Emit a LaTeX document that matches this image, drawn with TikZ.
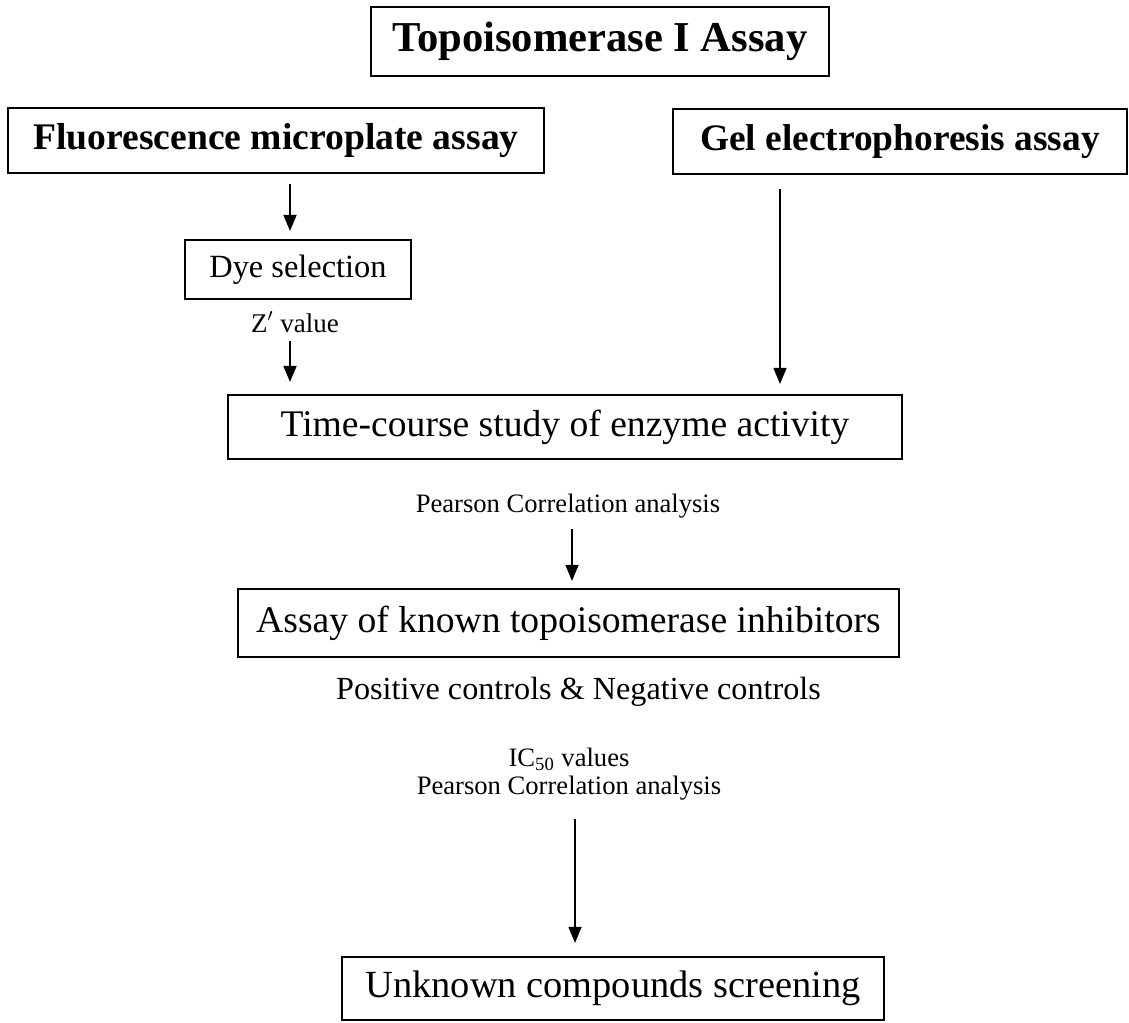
\documentclass[tikz,border=0pt]{standalone}
\usepackage{fontspec}
\setmainfont{Liberation Serif}
\usepackage{tikz}
\usetikzlibrary{positioning, arrows.meta}

\begin{document}
\begin{tikzpicture}[x=0.5pt, y=-0.5pt,
    box/.style={draw, line width=1.1pt, inner sep=0pt, align=center},
    lbl/.style={inner sep=0pt, align=center},
    arr/.style={-{Triangle[length=8pt, width=6.5pt]}, line width=0.9pt}]
    \useasboundingbox (0,0) rectangle (1129,1022);

    % Boxes
    \node[box, minimum width=229pt, minimum height=34.5pt, font=\bfseries\fontsize{21.3}{25}\selectfont] (title) at (600,41.5) {Topoisomerase I Assay};
    \node[box, minimum width=268pt, minimum height=32.5pt, font=\bfseries\fontsize{18.8}{22}\selectfont] (fluor) at (276,140.5) {Fluorescence microplate assay};
    \node[box, minimum width=227pt, minimum height=32.5pt, font=\bfseries\fontsize{18.7}{22}\selectfont] (gel) at (900,141.5) {Gel electrophoresis assay};
    \node[box, minimum width=113pt, minimum height=29.5pt, font=\fontsize{16.2}{19}\selectfont] (dye) at (298,269.5) {Dye selection};
    \node[box, minimum width=337pt, minimum height=32pt, font=\fontsize{18.8}{22}\selectfont] (time) at (565,427) {Time-course study of enzyme activity};
    \node[box, minimum width=330.5pt, minimum height=34pt, font=\fontsize{18.8}{22}\selectfont] (known) at (568.5,623) {Assay of known topoisomerase inhibitors};
    \node[box, minimum width=271pt, minimum height=31.5pt, font=\fontsize{19.2}{22}\selectfont] (unknown) at (613,988.5) {Unknown compounds screening};

    % Labels
    \node[lbl, font=\fontsize{13.5}{16}\selectfont] (zval) at (295,322) {Z$'$ value};
    \node[lbl, font=\fontsize{13.3}{16}\selectfont] (pearson) at (568,506) {Pearson Correlation analysis};
    \node[lbl, font=\fontsize{16.1}{19}\selectfont] (controls) at (578.5,692) {Positive controls \& Negative controls};
    \node[lbl, font=\fontsize{13.3}{14}\selectfont] (ictext) at (569,774) {IC\textsubscript{50} values\\Pearson Correlation analysis};

    % Arrows
    \coordinate (lcol) at (290,0);
    \coordinate (gcol) at (780,0);
    \draw[arr, shorten <=5pt, shorten >=4pt] (fluor.south -| lcol) -- (dye.north -| lcol);
    \draw[arr, shorten <=4pt, shorten >=6pt] (zval.south -| lcol) -- (time.north -| lcol);
    \draw[arr, shorten <=7pt, shorten >=5pt] (gel.south -| gcol) -- (time.north -| gcol);
    \draw[arr, shorten <=5pt, shorten >=3.5pt] ([xshift=2pt]pearson.south) -- ([xshift=2pt]pearson.south |- known.north);
    \draw[arr, shorten <=9pt, shorten >=6.5pt] ([xshift=3pt]ictext.south) -- ([xshift=3pt]ictext.south |- unknown.north);
\end{tikzpicture}
\end{document}
